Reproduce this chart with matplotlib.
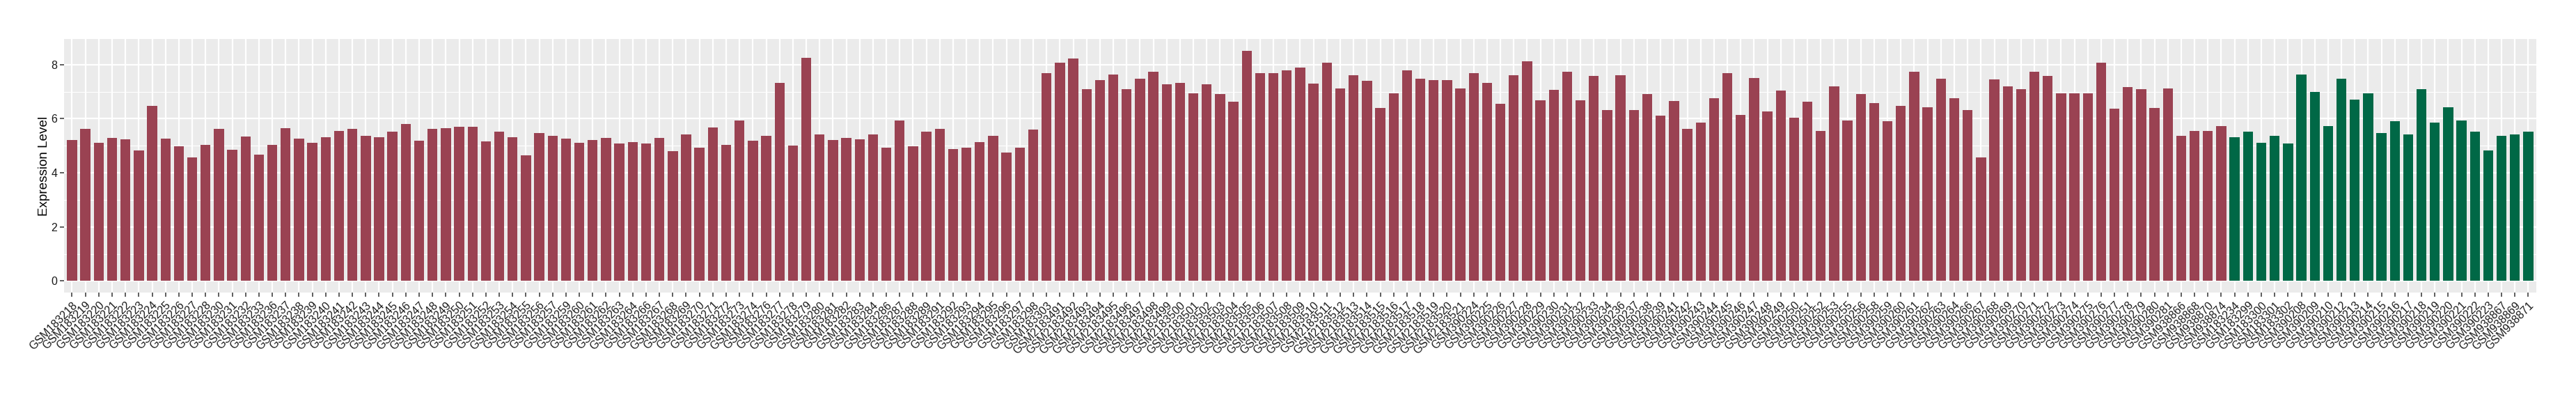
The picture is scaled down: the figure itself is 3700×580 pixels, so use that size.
import matplotlib
matplotlib.use("Agg")
import matplotlib.pyplot as plt
import numpy as np

# sample ids and expression values, first group (red)
red_samples = [
    "GSM183218", "GSM183219", "GSM183220", "GSM183221", "GSM183222", "GSM183223",
    "GSM183224", "GSM183225", "GSM183226", "GSM183227", "GSM183228", "GSM183230",
    "GSM183231", "GSM183232", "GSM183233", "GSM183236", "GSM183237", "GSM183238",
    "GSM183239", "GSM183240", "GSM183241", "GSM183242", "GSM183243", "GSM183244",
    "GSM183245", "GSM183246", "GSM183247", "GSM183248", "GSM183249", "GSM183250",
    "GSM183251", "GSM183252", "GSM183253", "GSM183254", "GSM183255", "GSM183256",
    "GSM183257", "GSM183259", "GSM183260", "GSM183261", "GSM183262", "GSM183263",
    "GSM183264", "GSM183266", "GSM183267", "GSM183268", "GSM183269", "GSM183270",
    "GSM183271", "GSM183272", "GSM183273", "GSM183274", "GSM183276", "GSM183277",
    "GSM183278", "GSM183279", "GSM183280", "GSM183281", "GSM183282", "GSM183283",
    "GSM183284", "GSM183286", "GSM183287", "GSM183288", "GSM183289", "GSM183291",
    "GSM183292", "GSM183293", "GSM183294", "GSM183295", "GSM183296", "GSM183297",
    "GSM183298", "GSM183303",
    "GSM2183491", "GSM2183492", "GSM2183493", "GSM2183494", "GSM2183495", "GSM2183496",
    "GSM2183497", "GSM2183498", "GSM2183499", "GSM2183500", "GSM2183501", "GSM2183502",
    "GSM2183503", "GSM2183504", "GSM2183505", "GSM2183506", "GSM2183507", "GSM2183508",
    "GSM2183509", "GSM2183510", "GSM2183511", "GSM2183512", "GSM2183513", "GSM2183514",
    "GSM2183515", "GSM2183516", "GSM2183517", "GSM2183518", "GSM2183519", "GSM2183520",
    "GSM2183521",
    "GSM390224", "GSM390225", "GSM390226", "GSM390227", "GSM390228", "GSM390229",
    "GSM390230", "GSM390231", "GSM390232", "GSM390233", "GSM390234", "GSM390236",
    "GSM390237", "GSM390238", "GSM390239", "GSM390241", "GSM390242", "GSM390243",
    "GSM390244", "GSM390245", "GSM390246", "GSM390247", "GSM390248", "GSM390249",
    "GSM390250", "GSM390251", "GSM390252", "GSM390253", "GSM390255", "GSM390256",
    "GSM390258", "GSM390259", "GSM390260", "GSM390261", "GSM390262", "GSM390263",
    "GSM390264", "GSM390266", "GSM390267", "GSM390268", "GSM390269", "GSM390270",
    "GSM390271", "GSM390272", "GSM390273", "GSM390274", "GSM390275", "GSM390276",
    "GSM390277", "GSM390278", "GSM390279", "GSM390280", "GSM390281",
    "GSM938866", "GSM938868", "GSM938870", "GSM938874",
]
red_values = [
    5.21, 5.63, 5.11, 5.29, 5.24, 4.82, 6.48, 5.26, 4.99, 4.57, 5.04, 5.63,
    4.84, 5.34, 4.66, 5.04, 5.66, 5.26, 5.11, 5.31, 5.54, 5.63, 5.36, 5.31,
    5.51, 5.81, 5.18, 5.63, 5.66, 5.71, 5.71, 5.16, 5.51, 5.31, 4.64, 5.46,
    5.38, 5.26, 5.11, 5.21, 5.29, 5.09, 5.13,
    5.09, 5.29, 4.79, 5.41, 4.94, 5.68, 5.04, 5.93, 5.18, 5.38, 7.33, 5.01,
    8.25, 5.41, 5.21,
    5.29, 5.24, 5.43, 4.94, 5.93, 4.99, 5.51, 5.63, 4.88, 4.94, 5.13, 5.36,
    4.76, 4.94, 5.61, 7.68,
    8.08, 8.22, 7.08, 7.43, 7.63, 7.08, 7.48, 7.73, 7.28, 7.33, 6.95, 7.28,
    6.91, 6.64, 8.52, 7.68, 7.68, 7.78, 7.88, 7.30, 8.08, 7.13, 7.61, 7.41,
    6.40, 6.95, 7.78, 7.48, 7.43, 7.43, 7.13,
    7.68, 7.33, 6.56, 7.61, 8.13, 6.68, 7.06, 7.73, 6.68, 7.58, 6.31, 7.61,
    6.33, 6.91, 6.11, 6.65, 5.63, 5.86, 6.76, 7.68, 6.15, 7.50, 6.28, 7.03,
    6.03, 6.64, 5.56, 7.20, 5.93, 6.91, 6.58, 5.91, 6.48, 7.73, 6.43, 7.48,
    6.76, 6.33, 4.58, 7.45, 7.20, 7.08, 7.73, 7.58, 6.95, 6.93, 6.95, 8.08,
    6.36, 7.18, 7.08, 6.39, 7.13,
    5.38, 5.54, 5.54, 5.73,
]

# second group (green)
green_samples = [
    "GSM183234", "GSM183299", "GSM183300", "GSM183301", "GSM183302",
    "GSM390208", "GSM390209", "GSM390210", "GSM390212", "GSM390213", "GSM390214",
    "GSM390215", "GSM390216", "GSM390217", "GSM390218", "GSM390219", "GSM390220",
    "GSM390221", "GSM390222", "GSM390223",
    "GSM938867", "GSM938869", "GSM938871",
]
green_values = [
    5.31, 5.51, 5.11, 5.38, 5.09,
    7.63, 7.00, 5.73, 7.48, 6.70, 6.93, 5.48, 5.91, 5.41, 7.08, 5.86, 6.43,
    5.93, 5.51, 4.82,
    5.38, 5.41, 5.51,
]

red_col = "#9A4252"
green_col = "#006846"

samples = red_samples + green_samples
values = np.array(red_values + green_values)
colours = [red_col] * len(red_samples) + [green_col] * len(green_samples)
x = np.arange(len(samples))

plt.rcParams["font.family"] = ["Liberation Sans", "DejaVu Sans"]

fig = plt.figure(figsize=(37, 5.8), dpi=100)
ax = fig.add_axes([0.02486, 0.2759, 0.95973, 0.6275])

ax.set_facecolor("#EBEBEB")
ax.bar(x, values, width=0.75, color=colours, zorder=3)

# ggplot style axes
ax.set_xlim(-0.6, len(samples) - 0.4)
ax.set_ylim(-values.max() * 0.05, values.max() * 1.05)
ax.set_yticks([0, 2, 4, 6, 8])
ax.set_yticks([1, 3, 5, 7], minor=True)
ax.set_xticks(x)
ax.set_xticklabels(samples, rotation=45, ha="right", va="top",
                   rotation_mode="anchor", fontsize=11.5, color="#1A1A1A")
ax.tick_params(axis="y", labelsize=11.5, labelcolor="#1A1A1A", pad=3)
ax.tick_params(which="major", length=4, width=1.1, color="#333333")
ax.tick_params(which="minor", length=0)

ax.grid(which="major", color="white", linewidth=1.6, zorder=0)
ax.grid(which="minor", axis="y", color="white", linewidth=0.8, zorder=0)
ax.set_axisbelow(True)
for s in ax.spines.values():
    s.set_visible(False)

ax.set_ylabel("Expression Level", fontsize=13.6, labelpad=1)

plt.savefig("out.png", dpi=100)
